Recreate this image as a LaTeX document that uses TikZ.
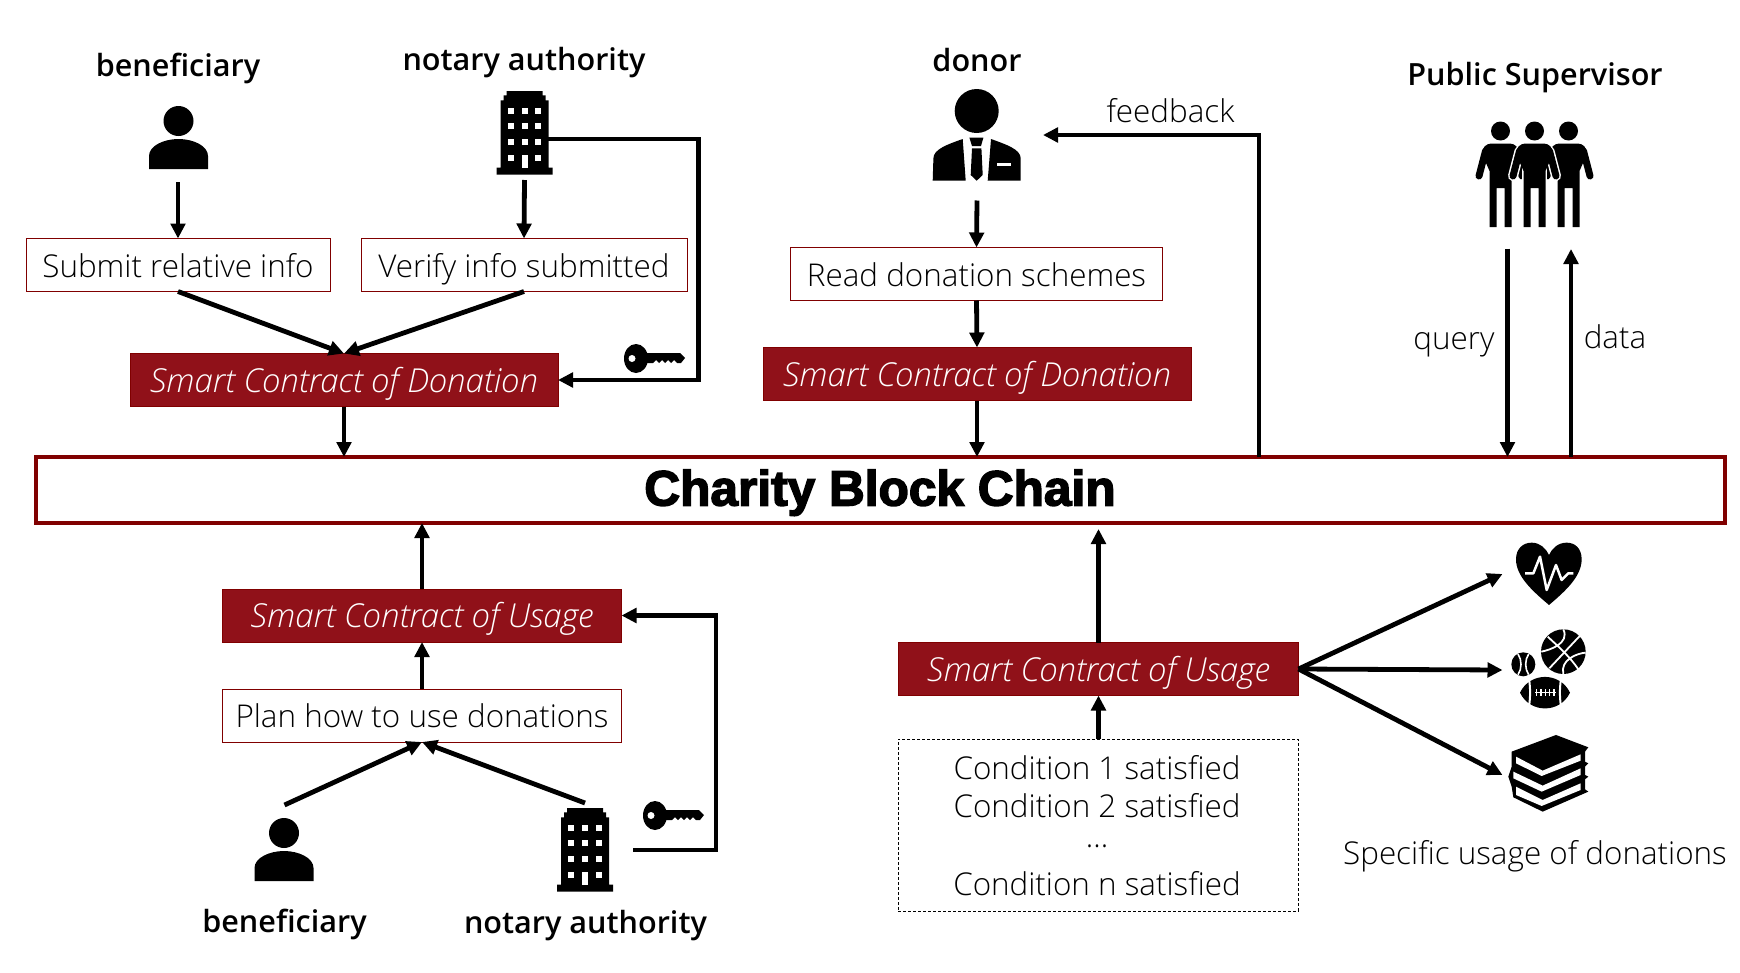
\documentclass[tikz,border=0pt]{standalone}
\usepackage{fontspec}
\setmainfont{Open Sans Light}[ItalicFont={Open Sans Light Italic}]
\newfontfamily\labelfont{Open Sans Semibold}
\newfontfamily\chainfont{Liberation Sans}[BoldFeatures={FakeBold=3}]
\usetikzlibrary{calc}
\usetikzlibrary{arrows.meta}
\definecolor{bg1}{RGB}{144,17,25}
\definecolor{l1}{RGB}{128,0,0}

\begin{document}
\begin{tikzpicture}[
    x=1pt,y=-1pt,
    l/.style={
        line width=4.8pt,
        -{Triangle[length=15pt,width=14.5pt]}
    },
    e/.style={
        draw=l1, line width=1pt, inner sep=0pt, outer sep=0pt,
        font={\fontsize{31.4}{31.4}\selectfont},
        text height=24.4pt, text depth=0pt
    },
    sc/.style={
        e, fill=bg1, text=white,
        font={\fontsize{33}{33}\selectfont\itshape}
    },
    t/.style={
        inner sep=0pt, outer sep=0pt,
        font={\fontsize{31.4}{31.4}\selectfont},
        text height=24.4pt, text depth=0pt
    },
    b/.style={
        t,
        font={\fontsize{30.6}{30.6}\selectfont\labelfont},
        text height=22pt
    },
    person/.pic={
        \fill (0,15) ellipse (15 and 15);
        \fill (-29.5,63) -- (-29.5,50) .. controls (-29.5,40) and (-15,33) .. (0,33)
            .. controls (15,33) and (29.5,40) .. (29.5,50) -- (29.5,63) -- cycle;
    },
    building/.pic={
        \fill (-18,0) -- (18,0) -- (18,4.3) -- (21,4.3) -- (21,9.3) -- (24,9.3) -- (24,76.7)
            -- (28,76.7) -- (28,83.7) -- (-28,83.7) -- (-28,76.7) -- (-24,76.7) -- (-24,9.3)
            -- (-21,9.3) -- (-21,4.3) -- (-18,4.3) -- cycle;
        \foreach \wx in {-13.8,0,13.8}
            \foreach \wy in {19.7,35,51}
                \fill [white] (\wx-3,\wy-3) rectangle (\wx+3,\wy+3);
        \foreach \wx in {-13.8,13.8}
            \fill [white] (\wx-3,63.7) rectangle (\wx+3,69.7);
        \fill [white] (-3,64) rectangle (3,76.7);
    },
    keyicon/.pic={
        \fill (12,14.5) ellipse (12 and 14.5);
        \fill (21,9) -- (56,9) -- (61,14) -- (57,19) -- (53,19) -- (50,16) -- (47,19) -- (44,16)
            -- (41,19) -- (38,16) -- (35,19) -- (32,16) -- (29,19) -- (21,19) -- cycle;
        \fill [white] (8,14.5) circle (3.5);
    },
    figure/.pic={
        \fill (0,0) circle (9.5);
        \draw [white, line width=10pt, line cap=round] (15,20) -- (21.5,45) (-15,20) -- (-21.5,45);
        \draw [white, line width=3pt] (-11,13) -- (11,13) -- (11,96) -- (-11,96) -- cycle;
        \draw [line width=7pt, line cap=round] (15,20) -- (21.5,45) (-15,20) -- (-21.5,45);
        \fill (-11,96) -- (-11,40) -- (-18,24) .. controls (-19,16) and (-14,12.5) .. (-9,12.5)
            -- (9,12.5) .. controls (14,12.5) and (19,16) .. (18,24) -- (11,40) -- (11,96) -- (4,96)
            -- (4,57) -- (-4,57) -- (-4,96) -- cycle;
    }
]
    \useasboundingbox (0,0) rectangle (1740,972);

    \node [b] (benA) at ( 178, 65.5) {beneficiary};
    \node [b] (notA) at ( 524, 59.5) {notary authority};
    \node [b] (don)  at ( 977, 60.5) {donor};
    \node [b] (pub)  at (1535, 74.5) {Public Supervisor};
    \node [b] (benB) at ( 284.5, 921) {beneficiary};
    \node [b] (notB) at ( 585.5, 922) {notary authority};

    \node [e, minimum width=304pt, minimum height=53pt] (sub)  at ( 178  , 265) {Submit relative info};
    \node [e, minimum width=326pt, minimum height=53pt] (ver)  at ( 524  , 265) {Verify info submitted};
    \node [e, minimum width=372pt, minimum height=53pt] (rea)  at ( 976.5, 274) {Read donation schemes};
    \node [e, minimum width=399pt, minimum height=53pt] (pla)  at ( 422  , 715.5) {Plan how to use donations};

    \node [sc, minimum width=428pt, minimum height=53pt] (donA) at ( 344  , 380) {Smart Contract of Donation};
    \node [sc, minimum width=428pt, minimum height=53pt] (donB) at ( 977  , 374) {Smart Contract of Donation};
    \node [sc, minimum width=399pt, minimum height=53pt] (useA) at ( 422  , 615.5) {Smart Contract of Usage};
    \node [sc, minimum width=400pt, minimum height=53pt] (useB) at (1098.5, 669) {Smart Contract of Usage};

    \node [draw=l1, line width=4pt, minimum width=1689pt, minimum height=66pt, inner sep=0pt, outer sep=0pt,
           text height=31pt, text depth=0pt,
           font={\fontsize{49.6}{49.6}\selectfont\chainfont\bfseries}] (chain) at (880, 490) {Charity Block Chain};

    \node [draw, densely dashed, line width=.8pt, minimum width=400pt, minimum height=172pt, outer sep=0pt] (con) at (1098, 825) {};
    \node [t] (c1) at (1097, 767) {Condition 1 satisfied};
    \node [t] (c2) at (1097, 805) {Condition 2 satisfied};
    \node [t] (c3) at (1097, 835) {...};
    \node [t] (c4) at (1097, 883) {Condition n satisfied};

    \node [t] (fee) at (1170.5, 110) {feedback};
    \node [t] (que) at (1454, 337) {query};
    \node [t] (dat) at (1615, 336) {data};
    \node [t] (spe) at (1535, 852) {Specific usage of donations};

    % icons
    \pic at ( 178.5, 106) {person};
    \pic at ( 284, 818) {person};
    \pic at ( 524.5,  91) {building};
    \pic at ( 585  , 808) {building};
    \pic at ( 624, 344) {keyicon};
    \pic at ( 643, 801) {keyicon};
    \pic at (1500.5, 131) {figure};
    \pic at (1568.5, 131) {figure};
    \pic at (1534.5, 131) {figure};

    \begin{scope}[shift={(976.7,111)}]
        \fill (0,0) circle (22);
        \fill (-14,28) .. controls (-28,33) and (-43.3,38) .. (-43.3,47.3) -- (-44,69.7) -- (-11,69.7) -- cycle;
        \fill (14.3,28) .. controls (28,33) and (44,38) .. (44,47.3) -- (44,69.7) -- (11,69.7) -- cycle;
        \fill (-7.3,26.7) -- (6.7,26.7) -- (4.3,35) -- (-4.7,35) -- cycle;
        \fill (-4.7,37.3) -- (4.7,37.3) -- (6,64) -- (0,69.7) -- (-6,64) -- cycle;
        \fill [white] (20,52.3) rectangle (34,55);
    \end{scope}

    \begin{scope}[shift={(1450,520)},x=.3333pt,y=-.3333pt]
        % heart
        \fill (297,255) .. controls (250,215) and (198,170) .. (198,118) .. controls (198,85) and (220,68) .. (245,68)
            .. controls (270,68) and (288,85) .. (297,105) .. controls (306,85) and (324,68) .. (350,68)
            .. controls (375,68) and (395,85) .. (395,118) .. controls (395,170) and (344,215) .. (297,255) -- cycle;
        \draw [white, line width=2.5pt, line join=round] (225,160) -- (250,160) -- (270,110) -- (290,210) -- (318,135)
            -- (335,180) -- (355,160) -- (370,160);
        % balls
        \fill (340,395) circle (67);
        \draw [white, line width=1.8pt] (298,445) -- (392,345) (293,350) .. controls (320,375) and (360,410) .. (385,448)
            (340,328) .. controls (360,370) and (300,390) .. (274,395) (340,462) .. controls (330,420) and (380,400) .. (407,398);
        \fill (220,433) circle (36);
        \draw [white, line width=1.6pt] (204,402) .. controls (216,420) and (216,446) .. (204,464)
            (236,402) .. controls (224,420) and (224,446) .. (236,464);
        \fill (210,518) .. controls (240,455) and (330,455) .. (360,518) .. controls (330,581) and (240,581) .. (210,518) -- cycle;
        \draw [white, line width=2pt] (235,465) .. controls (242,500) and (242,536) .. (235,571)
            (335,465) .. controls (328,500) and (328,536) .. (335,571);
        \draw [white, line width=1.2pt] (255,518) -- (318,518)
            (260,508) -- (260,528) (273,508) -- (273,528) (286,508) -- (286,528) (299,508) -- (299,528) (312,508) -- (312,528);
        % books
        \fill (318,645) -- (415,682) -- (405,695) -- (405,725) -- (415,730) -- (405,740) -- (405,765) -- (415,770)
            -- (405,778) -- (405,808) -- (415,815) -- (278,875) -- (190,832) -- (185,800) -- (175,770) -- (185,740)
            -- (185,695) -- cycle;
        \fill [white] (198,710) -- (278,752) -- (392,703) -- (392,722) -- (275,768) -- (198,730) -- cycle;
        \fill [white] (190,755) -- (278,797) -- (392,745) -- (392,765) -- (275,815) -- (190,775) -- cycle;
        \fill [white] (198,800) -- (278,840) -- (392,790) -- (392,810) -- (275,858) -- (198,825) -- cycle;
    \end{scope}

    % free ends of the connectors
    \coordinate (pa) at (178,182);
    \coordinate (na) at (524.5,180);
    \coordinate (nc) at (548,139);
    \coordinate (nd) at (698.5,139);
    \coordinate (ne) at (698.5,380);
    \coordinate (da) at (977,200.5);
    \coordinate (fa) at (1259,135);
    \coordinate (fb) at (1043,135);
    \coordinate (qa) at (1507.5,248.5);
    \coordinate (qb) at (1571,249);
    \coordinate (pb) at (284.5,805);
    \coordinate (nf) at (585,803);
    \coordinate (ng) at (633,850);
    \coordinate (nh) at (716,850);
    \coordinate (ni) at (716,615.5);
    \coordinate (uh) at (1502.5,574);
    \coordinate (us) at (1502.5,670);
    \coordinate (ub) at (1502.5,775);

    \draw (pa) edge [l] (sub.north);
    \draw (na) edge [l] (ver.north);
    \draw (sub.south) edge [l] (donA.north);
    \draw (ver.south) edge [l] (donA.north);
    \draw (donA.south) edge [l] (donA.south |- chain.north);
    \draw [l] (nc) -- (nd) -- (ne) -- (donA.east |- ne);

    \draw (da) edge [l] (rea.north);
    \draw (rea.south) edge [l] (donB.north);
    \draw (donB.south) edge [l] (donB.south |- chain.north);
    \draw [l] (chain.north -| fa) -- (fa) -- (fb);
    \draw (qa) edge [l] (qa |- chain.north);
    \draw (chain.north -| qb) edge [l] (qb);

    \draw (useA.north) edge [l] (useA.north |- chain.south);
    \draw (pla.north) edge [l] (useA.south);
    \draw (pb) edge [l] (pla.south);
    \draw (nf) edge [l] (pla.south);
    \draw [l] (ng) -- (nh) -- (ni) -- (useA.east);

    \draw (useB.north) edge [l] ($(useB.north |- chain.south)+(0,6)$);
    \draw (con.north -| useB) edge [l] (useB.south);
    \draw (useB.east) edge [l] (uh);
    \draw (useB.east) edge [l] (us);
    \draw (useB.east) edge [l] (ub);

\end{tikzpicture}
\end{document}
